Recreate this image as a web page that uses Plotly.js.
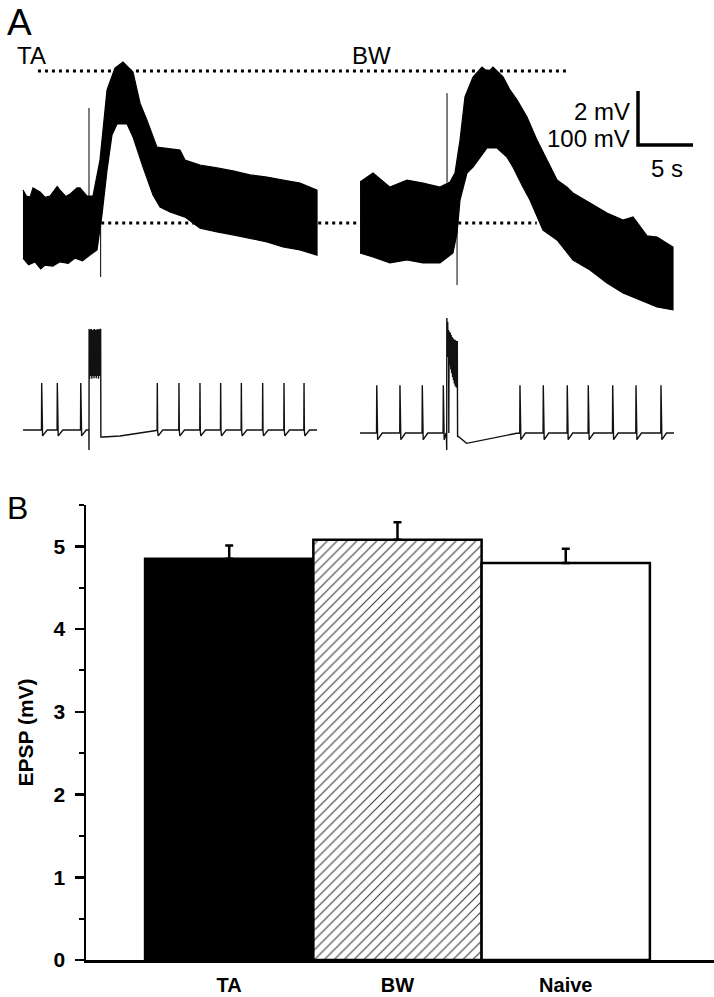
<!DOCTYPE html>
<html>
<head>
<meta charset="utf-8">
<script src="https://cdn.plot.ly/plotly-3.0.1.min.js"></script>
<style>
  html, body { margin: 0; padding: 0; background: #fff; }
  #chart { width: 714px; height: 997px; }
</style>
</head>
<body>
<div id="chart"></div>
<script>
// Panel B: mean EPSP amplitude per group
const groups = ["TA", "BW", "Naive"];
const epspMean = [4.85, 5.08, 4.80];
const epspSem = [0.16, 0.21, 0.17];
const groupFill = ["#000", "#fff", "#fff"];
const groupHatch = ["", "/", ""];

// Panel A, top: EPSP traces drawn as the noise envelope (time in s, voltage in mV from baseline)
const taUpperT = [2.09, 2.4, 2.73, 3.0, 3.64, 4.1, 4.55, 5.2, 5.45, 6.0, 6.36, 7.0, 7.27, 7.9, 8.45, 9.09, 9.73, 10.45, 11.18, 12.09, 12.73, 13.36, 14.27, 15.0, 16.36, 16.82, 18.18, 19.73, 21.18, 22.73, 24.27, 25.73, 27.27, 28.82];
const taUpperV = [1.22, 1.0, 0.96, 1.3, 1.15, 0.95, 1.0, 1.35, 1.22, 0.98, 1.07, 1.3, 1.3, 1.0, 1.0, 2.33, 4.93, 5.74, 5.96, 5.59, 4.44, 3.81, 2.81, 2.78, 2.70, 2.33, 2.15, 2.04, 1.93, 1.78, 1.70, 1.59, 1.48, 1.22];
const taLowerT = [2.09, 2.6, 3.18, 3.7, 4.09, 4.8, 5.45, 6.2, 6.82, 7.5, 8.18, 8.82, 9.27, 9.73, 10.18, 10.64, 11.55, 12.09, 13.0, 13.91, 14.55, 15.45, 16.82, 18.18, 19.73, 21.18, 22.73, 24.27, 25.73, 27.27, 28.82];
const taLowerV = [-1.30, -1.55, -1.44, -1.7, -1.56, -1.6, -1.44, -1.5, -1.30, -1.4, -1.19, -1.0, 0.30, 1.96, 3.26, 3.67, 3.67, 3.19, 2.07, 1.04, 0.59, 0.41, 0.22, -0.19, -0.33, -0.44, -0.56, -0.70, -0.89, -1.0, -1.19];

const bwUpperT = [32.73, 33.91, 35.45, 37.0, 38.45, 40.0, 40.91, 41.36, 41.82, 42.27, 43.0, 43.82, 44.36, 44.82, 45.73, 46.36, 47.0, 47.91, 48.82, 49.73, 50.64, 51.55, 52.09, 53.64, 55.18, 56.64, 57.55, 58.82, 59.73, 61.18];
const bwUpperV = [1.52, 1.85, 1.33, 1.59, 1.48, 1.33, 1.52, 1.85, 3.07, 4.67, 5.41, 5.78, 5.59, 5.78, 5.41, 4.93, 4.56, 3.93, 3.07, 2.33, 1.59, 1.33, 1.11, 0.74, 0.37, 0.11, 0.22, -0.48, -0.52, -0.89];
const bwLowerT = [32.73, 33.91, 35.45, 37.0, 38.45, 40.0, 41.18, 41.55, 41.82, 42.45, 43.0, 43.64, 44.27, 45.18, 46.09, 46.64, 47.55, 48.18, 48.82, 49.36, 50.64, 52.09, 53.64, 55.18, 56.64, 58.18, 59.73, 61.18];
const bwLowerV = [-1.11, -1.26, -1.48, -1.37, -1.48, -1.48, -1.11, -0.37, 0.85, 1.85, 2.07, 2.44, 2.78, 2.78, 2.44, 2.07, 1.33, 0.85, 0.22, -0.26, -0.63, -1.37, -1.74, -2.22, -2.59, -2.85, -3.11, -3.22];

// stimulus artifacts on the EPSP traces: [time, from, to]
const epspArtifacts = [[8.09, 4.26, 0.9], [9.15, 1.0, -2.0], [40.64, 4.81, 1.5], [41.55, 0.8, -2.3]];

// dotted reference lines (peak level and baseline)
const peakLineT = [3.45, 51.8];
const peakLineV = [5.63, 5.63];
const baseLineT = [9.2, 48.8];
const baseLineV = [0, 0];

// scale bar: 2 mV / 100 mV vertical, 5 s horizontal
const scaleBarT = [58.0, 58.0, 63.0];
const scaleBarV = [4.89, 2.89, 2.89];

// Panel A, bottom: firing (mV relative to TA rest)
const taRest = 0;
const taSpikeT = [3.79, 5.21, 7.34, 14.3, 16.27, 18.18, 20.06, 21.94, 23.88, 25.82, 27.64];
const taSpikePeak = 87;
const taSpikeTrough = -11;
const taBaseT = [2.09, 8.07, 9.4, 10.9, 12.7, 14.2, 28.82];
const taBaseV = [0, 0, -13, -11, -6, -1, 0];
const taBurstT = [8.08, 8.09, 8.10, 8.15, 8.2, 8.25, 8.3, 8.35, 8.4, 8.45, 8.5, 8.55, 8.6, 8.65, 8.7, 8.75, 8.8, 8.85, 8.9, 8.95, 9.0, 9.05, 9.1, 9.15, 9.17];
const taBurstV = [0, -37, 187, 95, 186, 100, 187, 95, 185, 100, 186, 96, 187, 100, 185, 96, 186, 100, 187, 95, 186, 100, 187, 186, -13];

const bwRest = -5.6;
const bwSpikeT = [34.25, 36.36, 38.39, 40.3, 47.27, 49.39, 51.57, 53.48, 55.7, 57.82, 60.09];
const bwSpikePeak = 83;
const bwSpikeTrough = -18;
const bwBaseT = [32.73, 40.55, 41.67, 42.42, 46.97, 61.27];
const bwBaseV = [-5.6, -5.6, -12, -24.7, -6.1, -5.6];
const bwBurstT = [40.58, 40.61, 40.62, 40.66, 40.70, 40.74, 40.78, 40.82, 40.86, 40.9, 40.94, 40.98, 41.02, 41.06, 41.1, 41.14, 41.18, 41.22, 41.26, 41.3, 41.34, 41.38, 41.42, 41.46, 41.5, 41.55, 41.57, 41.6];
const bwBurstV = [-10, -37, 217, 140, 200, 135, 185, 128, 182, 120, 180, 112, 176, 105, 172, 98, 170, 92, 168, 86, 167, 82, 166, 79, 165, 78, 165, -12];

const W = 714, H = 997;
const px = (x) => x / W;
const py = (y) => 1 - y / H;

function band(upT, upV, loT, loV) {
  return {
    x: upT.concat(loT.slice().reverse()),
    y: upV.concat(loV.slice().reverse()),
    type: "scatter", mode: "lines", fill: "toself",
    fillcolor: "#000", line: { color: "#000", width: 1.2 },
    xaxis: "x2", yaxis: "y2", hoverinfo: "skip",
  };
}

function spikeTrain(baseT, baseV, spikes, rest, peak, trough, burstT, burstV) {
  const pts = baseT.map((t, i) => [t, baseV[i]]);
  spikes.forEach((t) => {
    pts.push([t - 0.02, rest], [t, peak], [t + 0.03, rest - 2], [t + 0.08, trough], [t + 0.5, rest]);
  });
  burstT.forEach((t, i) => pts.push([t, burstV[i]]));
  pts.sort((a, b) => a[0] - b[0]);
  return {
    x: pts.map((p) => p[0]), y: pts.map((p) => p[1]),
    type: "scatter", mode: "lines",
    line: { color: "#111", width: 1.4 },
    xaxis: "x2", yaxis: "y3", hoverinfo: "skip",
  };
}

function dotted(t, v) {
  return {
    x: t, y: v, type: "scatter", mode: "lines",
    line: { color: "#000", width: 3, dash: "3px,4px" }, xaxis: "x2", yaxis: "y2", hoverinfo: "skip",
  };
}

const traces = [dotted(peakLineT, peakLineV), dotted(baseLineT, baseLineV)];

traces.push(band(taUpperT, taUpperV, taLowerT, taLowerV));
traces.push(band(bwUpperT, bwUpperV, bwLowerT, bwLowerV));

epspArtifacts.forEach(([t, a, b]) => {
  traces.push({
    x: [t, t], y: [a, b], type: "scatter", mode: "lines",
    line: { color: "#000", width: 1 }, xaxis: "x2", yaxis: "y2", hoverinfo: "skip",
  });
});

traces.push({
  x: scaleBarT, y: scaleBarV, type: "scatter", mode: "lines",
  line: { color: "#000", width: 3.5 }, xaxis: "x2", yaxis: "y2", hoverinfo: "skip",
});

traces.push(spikeTrain(taBaseT, taBaseV, taSpikeT, taRest, taSpikePeak, taSpikeTrough, taBurstT, taBurstV));
traces.push(spikeTrain(bwBaseT, bwBaseV, bwSpikeT, bwRest, bwSpikePeak, bwSpikeTrough, bwBurstT, bwBurstV));

// one bar trace per group so the hatch only lands on BW
groups.forEach((g, i) => {
  const marker = { color: groupFill[i], line: { color: "#000", width: 2.5 } };
  if (groupHatch[i]) {
    marker.pattern = { shape: groupHatch[i], fgcolor: "#3a3a3a", bgcolor: "#fff", size: 7, solidity: 0.16 };
  }
  traces.push({
    x: [g], y: [epspMean[i]], type: "bar", width: 1, marker,
    error_y: {
      type: "data", symmetric: false, array: [epspSem[i]], arrayminus: [0],
      color: "#000", thickness: 2.5, width: 4,
    },
    xaxis: "x", yaxis: "y", hoverinfo: "skip",
  });
});

const boldFont = { family: "Liberation Sans, Arial, sans-serif", color: "#000", weight: "bold" };
const labelFont = { family: "Liberation Sans, Arial, sans-serif", size: 24, color: "#000" };

const layout = {
  width: W, height: H,
  margin: { l: 0, r: 0, t: 0, b: 0 },
  paper_bgcolor: "#fff", plot_bgcolor: "rgba(0,0,0,0)",
  showlegend: false, bargap: 0, barmode: "overlay",
  xaxis: {
    domain: [px(86), 1], range: [-0.851, 2.881], anchor: "y",
    type: "category", categoryarray: groups,
    showline: true, linecolor: "#000", linewidth: 2.5,
    ticks: "", showgrid: false, zeroline: false,
    tickfont: { ...boldFont, size: 20 }, ticklabelstandoff: 5,
  },
  yaxis: {
    domain: [py(960), py(505)], range: [0, 5.5], anchor: "x",
    showline: true, linecolor: "#000", linewidth: 2.5,
    ticks: "outside", ticklen: 9, tickwidth: 2.5, tickcolor: "#000", dtick: 1,
    minor: { dtick: 0.5, ticks: "outside", ticklen: 5, tickwidth: 2, tickcolor: "#000" },
    showgrid: false, zeroline: false, tickfont: { ...boldFont, size: 21 }, ticklabelstandoff: 5,
    title: { text: "EPSP (mV)", font: { ...boldFont, size: 21 }, standoff: 15 },
  },
  xaxis2: { domain: [0, 1], range: [0, W / 11], anchor: "y2", visible: false },
  yaxis2: { domain: [py(318), py(40)], range: [-3.52, 6.78], anchor: "x2", visible: false },
  yaxis3: { domain: [py(470), py(318)], range: [-74.1, 207.4], anchor: "x2", visible: false },
  annotations: [
    { text: "A", x: px(5), y: py(23), xanchor: "left", yanchor: "middle", font: { ...labelFont, size: 37 } },
    { text: "B", x: px(5), y: py(508), xanchor: "left", yanchor: "middle", font: { ...labelFont, size: 32 } },
    { text: "TA", x: px(15), y: py(55), xanchor: "left", yanchor: "middle", font: labelFont },
    { text: "BW", x: px(350), y: py(55), xanchor: "left", yanchor: "middle", font: labelFont },
    { text: "2 mV", x: px(632), y: py(111), xanchor: "right", yanchor: "middle", font: labelFont },
    { text: "100 mV", x: px(632), y: py(138), xanchor: "right", yanchor: "middle", font: labelFont },
    { text: "5 s", x: px(667), y: py(168), xanchor: "center", yanchor: "middle", font: labelFont },
  ].map((a) => ({ ...a, xref: "paper", yref: "paper", showarrow: false })),
};

Plotly.newPlot("chart", traces, layout, { displayModeBar: false, staticPlot: true });
</script>
</body>
</html>
